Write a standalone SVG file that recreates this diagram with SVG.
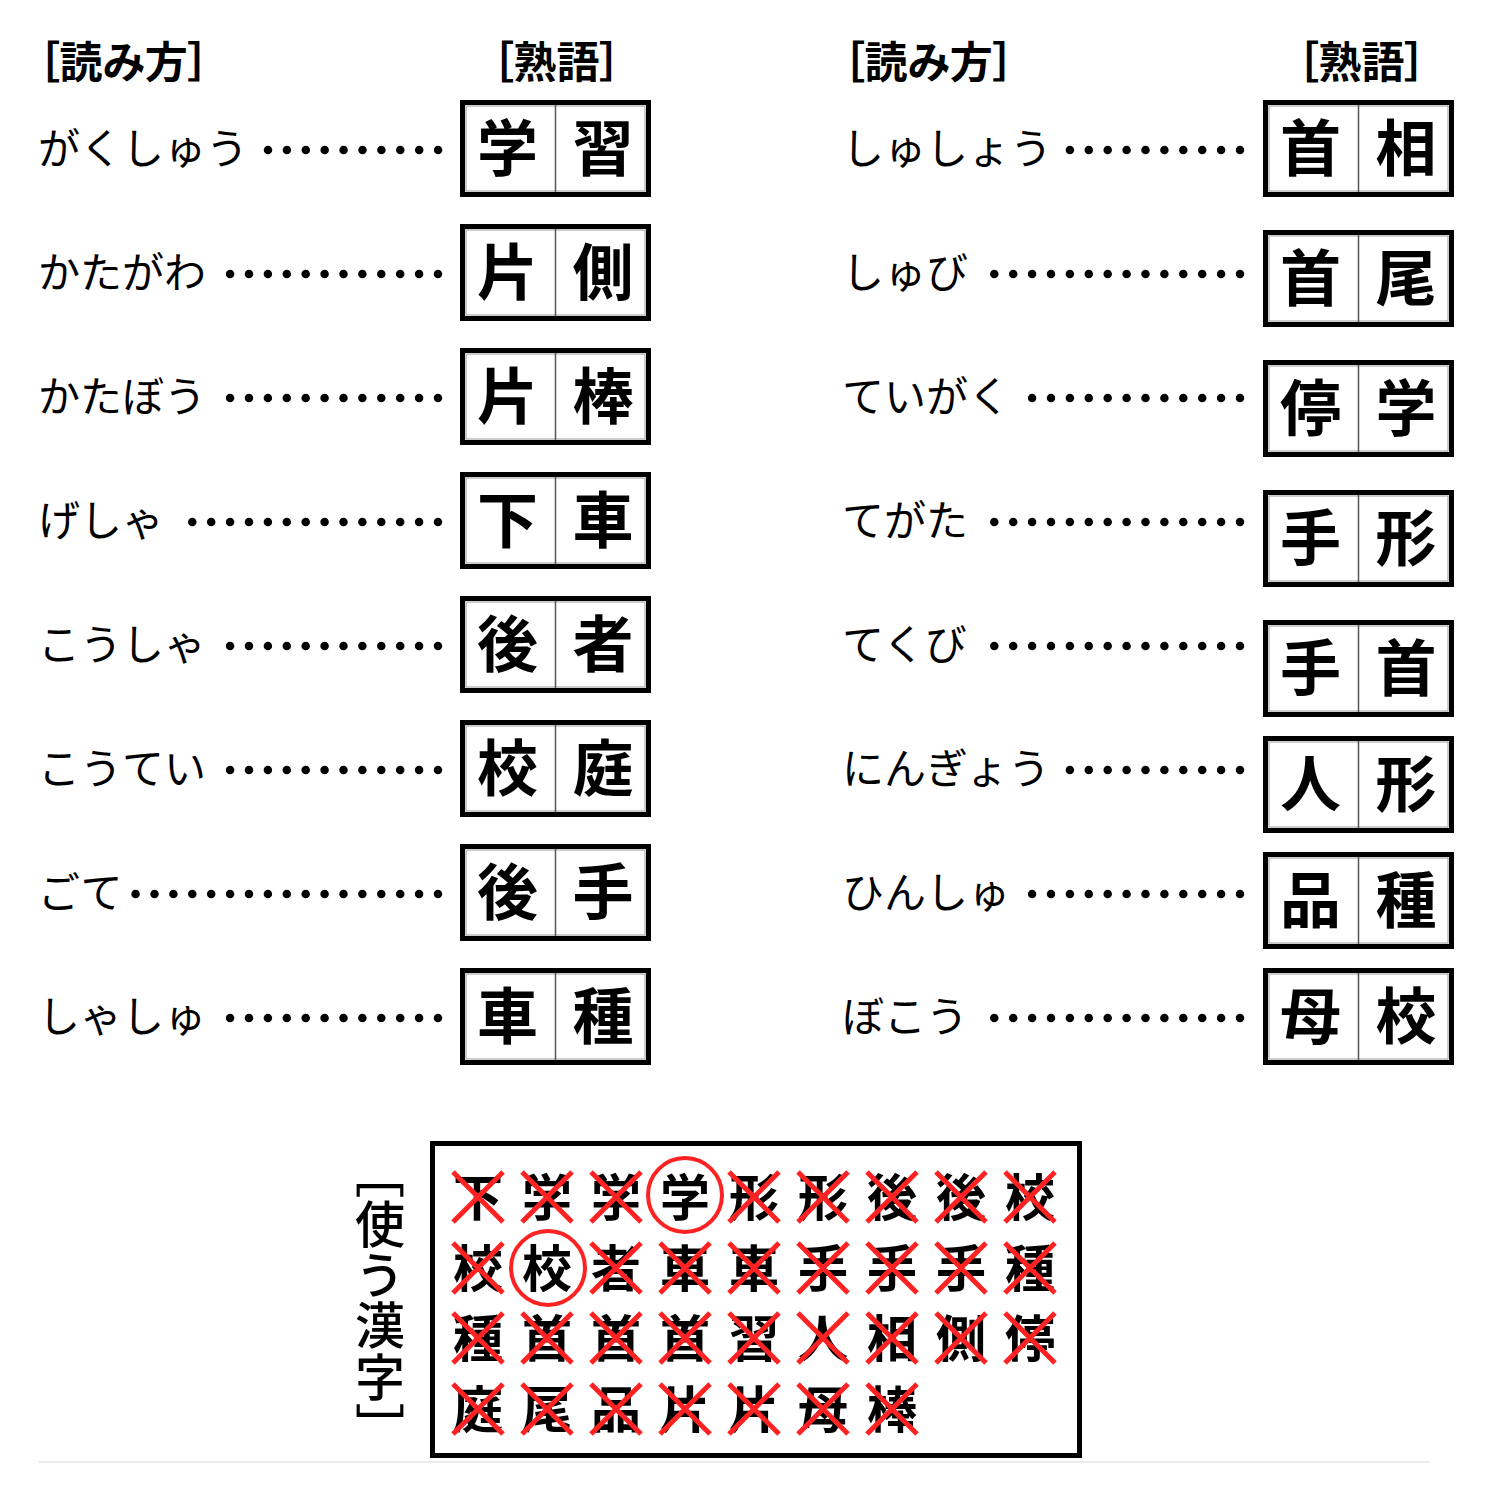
<svg xmlns="http://www.w3.org/2000/svg" width="1500" height="1500" viewBox="0 0 1500 1500">
<style>
.hd{font-family:"Noto Sans CJK JP","Noto Sans",sans-serif;font-size:43px;font-weight:700;fill:#000;font-feature-settings:"palt"}
.rd{font-family:"Noto Sans CJK JP","Noto Sans",sans-serif;font-size:42px;font-weight:400;fill:#000}
.kj{font-family:"Noto Sans CJK JP","Noto Sans",sans-serif;font-size:61px;font-weight:700;fill:#000;text-anchor:middle}
.gk{font-family:"Noto Sans CJK JP","Noto Sans",sans-serif;font-size:50px;font-weight:700;fill:#000;text-anchor:middle}
.vl{font-family:"Noto Sans CJK JP","Noto Sans",sans-serif;font-size:50px;font-weight:500;fill:#000;writing-mode:vertical-rl;font-feature-settings:"vpal";letter-spacing:2px}
.ob{fill:none;stroke:#000;stroke-width:5}
.ib{fill:none;stroke:#999;stroke-width:1}
.dv{stroke:#555;stroke-width:1.5}
.dots{stroke:#000;stroke-width:8.5;stroke-linecap:round;stroke-dasharray:0 18.9}
.x{stroke:#f22;stroke-width:5}
.ci{fill:none;stroke:#f22;stroke-width:4}
</style>
<rect width="1500" height="1500" fill="#fff"/>
<defs>
<g id="box">
<rect class="ob" x="2.5" y="2.5" width="186" height="92"/>
<rect class="ib" x="6" y="6" width="179" height="85"/>
<line class="dv" x1="95.5" y1="5" x2="95.5" y2="92"/>
</g>
</defs>

<g id="headers">
<text class="hd" x="38" y="78">［読み方］</text>
<text class="hd" x="492" y="78">［熟語］</text>
<text class="hd" x="843" y="78">［読み方］</text>
<text class="hd" x="1297" y="78">［熟語］</text>
</g>

<g id="connectors">
<line class="dots" x1="268" y1="150" x2="438.5" y2="150"/>
<line class="dots" x1="230.1" y1="274" x2="438.5" y2="274"/>
<line class="dots" x1="230.1" y1="398" x2="438.5" y2="398"/>
<line class="dots" x1="192.3" y1="522" x2="438.5" y2="522"/>
<line class="dots" x1="230.1" y1="646" x2="438.5" y2="646"/>
<line class="dots" x1="230.1" y1="770" x2="438.5" y2="770"/>
<line class="dots" x1="135.6" y1="894" x2="438.5" y2="894"/>
<line class="dots" x1="230.1" y1="1018" x2="438.5" y2="1018"/>
<line class="dots" x1="1069.9" y1="150" x2="1240.5" y2="150"/>
<line class="dots" x1="994.3" y1="274" x2="1240.5" y2="274"/>
<line class="dots" x1="1032.1" y1="398" x2="1240.5" y2="398"/>
<line class="dots" x1="994.3" y1="522" x2="1240.5" y2="522"/>
<line class="dots" x1="994.3" y1="646" x2="1240.5" y2="646"/>
<line class="dots" x1="1069.9" y1="770" x2="1240.5" y2="770"/>
<line class="dots" x1="1032.1" y1="894" x2="1240.5" y2="894"/>
<line class="dots" x1="994.3" y1="1018" x2="1240.5" y2="1018"/>
</g>

<g id="readings-left">
<text class="rd" x="38" y="164">がくしゅう</text>
<text class="rd" x="38" y="288">かたがわ</text>
<text class="rd" x="38" y="412">かたぼう</text>
<text class="rd" x="38" y="536">げしゃ</text>
<text class="rd" x="38" y="660">こうしゃ</text>
<text class="rd" x="38" y="784">こうてい</text>
<text class="rd" x="38" y="908">ごて</text>
<text class="rd" x="38" y="1032">しゃしゅ</text>
</g>
<g id="readings-right">
<text class="rd" x="842" y="164">しゅしょう</text>
<text class="rd" x="842" y="288">しゅび</text>
<text class="rd" x="842" y="412">ていがく</text>
<text class="rd" x="842" y="536">てがた</text>
<text class="rd" x="842" y="660">てくび</text>
<text class="rd" x="842" y="784">にんぎょう</text>
<text class="rd" x="842" y="908">ひんしゅ</text>
<text class="rd" x="842" y="1032">ぼこう</text>
</g>

<g id="word-1" transform="translate(460,100)"><use href="#box"/><text class="kj" x="47.5" y="71">学</text><text class="kj" x="143" y="71">習</text></g>
<g id="word-2" transform="translate(460,224)"><use href="#box"/><text class="kj" x="47.5" y="71">片</text><text class="kj" x="143" y="71">側</text></g>
<g id="word-3" transform="translate(460,348)"><use href="#box"/><text class="kj" x="47.5" y="71">片</text><text class="kj" x="143" y="71">棒</text></g>
<g id="word-4" transform="translate(460,472)"><use href="#box"/><text class="kj" x="47.5" y="71">下</text><text class="kj" x="143" y="71">車</text></g>
<g id="word-5" transform="translate(460,596)"><use href="#box"/><text class="kj" x="47.5" y="71">後</text><text class="kj" x="143" y="71">者</text></g>
<g id="word-6" transform="translate(460,720)"><use href="#box"/><text class="kj" x="47.5" y="71">校</text><text class="kj" x="143" y="71">庭</text></g>
<g id="word-7" transform="translate(460,844)"><use href="#box"/><text class="kj" x="47.5" y="71">後</text><text class="kj" x="143" y="71">手</text></g>
<g id="word-8" transform="translate(460,968)"><use href="#box"/><text class="kj" x="47.5" y="71">車</text><text class="kj" x="143" y="71">種</text></g>

<g id="word-9" transform="translate(1263,100)"><use href="#box"/><text class="kj" x="47.5" y="71">首</text><text class="kj" x="143" y="71">相</text></g>
<g id="word-10" transform="translate(1263,230)"><use href="#box"/><text class="kj" x="47.5" y="71">首</text><text class="kj" x="143" y="71">尾</text></g>
<g id="word-11" transform="translate(1263,360)"><use href="#box"/><text class="kj" x="47.5" y="71">停</text><text class="kj" x="143" y="71">学</text></g>
<g id="word-12" transform="translate(1263,490)"><use href="#box"/><text class="kj" x="47.5" y="71">手</text><text class="kj" x="143" y="71">形</text></g>
<g id="word-13" transform="translate(1263,620)"><use href="#box"/><text class="kj" x="47.5" y="71">手</text><text class="kj" x="143" y="71">首</text></g>
<g id="word-14" transform="translate(1263,736)"><use href="#box"/><text class="kj" x="47.5" y="71">人</text><text class="kj" x="143" y="71">形</text></g>
<g id="word-15" transform="translate(1263,852)"><use href="#box"/><text class="kj" x="47.5" y="71">品</text><text class="kj" x="143" y="71">種</text></g>
<g id="word-16" transform="translate(1263,968)"><use href="#box"/><text class="kj" x="47.5" y="71">母</text><text class="kj" x="143" y="71">校</text></g>

<g id="kanji-label">
<text class="vl" x="380" y="1172">［使う漢字］</text>
</g>

<g id="kanji-pool">
<rect class="ob" x="432.5" y="1143.5" width="647" height="312"/>
<g id="pool-row-1">
<text class="gk" x="478" y="1216">下</text><text class="gk" x="547" y="1216">学</text><text class="gk" x="616" y="1216">学</text><text class="gk" x="685" y="1216">学</text><text class="gk" x="754" y="1216">形</text><text class="gk" x="823" y="1216">形</text><text class="gk" x="892" y="1216">後</text><text class="gk" x="961" y="1216">後</text><text class="gk" x="1030" y="1216">校</text>
</g>
<g id="pool-row-2">
<text class="gk" x="478" y="1287">校</text><text class="gk" x="547" y="1287">校</text><text class="gk" x="616" y="1287">者</text><text class="gk" x="685" y="1287">車</text><text class="gk" x="754" y="1287">車</text><text class="gk" x="823" y="1287">手</text><text class="gk" x="892" y="1287">手</text><text class="gk" x="961" y="1287">手</text><text class="gk" x="1030" y="1287">種</text>
</g>
<g id="pool-row-3">
<text class="gk" x="478" y="1357">種</text><text class="gk" x="547" y="1357">首</text><text class="gk" x="616" y="1357">首</text><text class="gk" x="685" y="1357">首</text><text class="gk" x="754" y="1357">習</text><text class="gk" x="823" y="1357">人</text><text class="gk" x="892" y="1357">相</text><text class="gk" x="961" y="1357">側</text><text class="gk" x="1030" y="1357">停</text>
</g>
<g id="pool-row-4">
<text class="gk" x="478" y="1428">庭</text><text class="gk" x="547" y="1428">尾</text><text class="gk" x="616" y="1428">品</text><text class="gk" x="685" y="1428">片</text><text class="gk" x="754" y="1428">片</text><text class="gk" x="823" y="1428">母</text><text class="gk" x="892" y="1428">棒</text>
</g>
<g id="marks">
<circle class="ci" cx="685" cy="1195" r="37"/>
<circle class="ci" cx="548" cy="1268" r="37"/>
<path class="x" d="M453,1172L503,1222M503,1172L453,1222 M522,1172L572,1222M572,1172L522,1222 M591,1172L641,1222M641,1172L591,1222 M729,1172L779,1222M779,1172L729,1222 M798,1172L848,1222M848,1172L798,1222 M867,1172L917,1222M917,1172L867,1222 M936,1172L986,1222M986,1172L936,1222 M1005,1172L1055,1222M1055,1172L1005,1222"/>
<path class="x" d="M453,1243L503,1293M503,1243L453,1293 M591,1243L641,1293M641,1243L591,1293 M660,1243L710,1293M710,1243L660,1293 M729,1243L779,1293M779,1243L729,1293 M798,1243L848,1293M848,1243L798,1293 M867,1243L917,1293M917,1243L867,1293 M936,1243L986,1293M986,1243L936,1293 M1005,1243L1055,1293M1055,1243L1005,1293"/>
<path class="x" d="M453,1313L503,1363M503,1313L453,1363 M522,1313L572,1363M572,1313L522,1363 M591,1313L641,1363M641,1313L591,1363 M660,1313L710,1363M710,1313L660,1363 M729,1313L779,1363M779,1313L729,1363 M798,1313L848,1363M848,1313L798,1363 M867,1313L917,1363M917,1313L867,1363 M936,1313L986,1363M986,1313L936,1363 M1005,1313L1055,1363M1055,1313L1005,1363"/>
<path class="x" d="M453,1384L503,1434M503,1384L453,1434 M522,1384L572,1434M572,1384L522,1434 M591,1384L641,1434M641,1384L591,1434 M660,1384L710,1434M710,1384L660,1434 M729,1384L779,1434M779,1384L729,1434 M798,1384L848,1434M848,1384L798,1434 M867,1384L917,1434M917,1384L867,1434"/>
</g>
</g>

<line x1="39" y1="1462" x2="1430" y2="1462" stroke="#ececec" stroke-width="2"/>
</svg>
